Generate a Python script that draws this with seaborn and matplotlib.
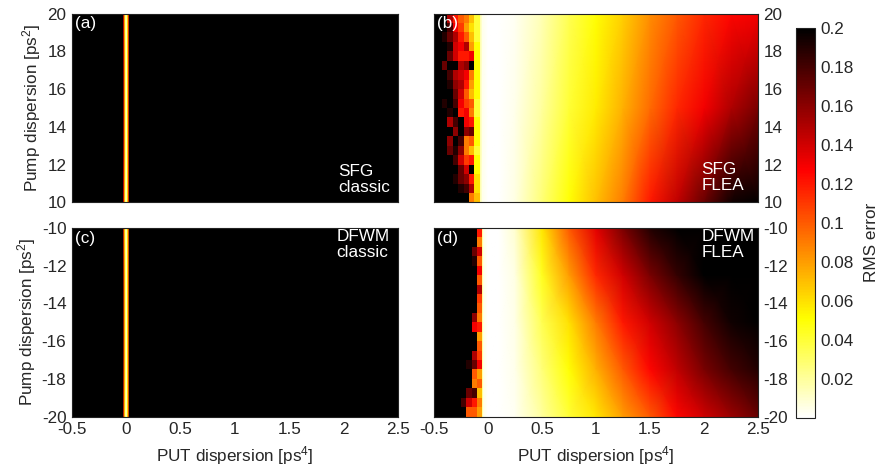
import numpy as np
import matplotlib
matplotlib.use("Agg")
import matplotlib.pyplot as plt
from matplotlib.colors import LinearSegmentedColormap
import seaborn as sns

# ---------------- data ----------------
x_ticks = [-0.5, 0, 0.5, 1, 1.5, 2, 2.5]
sfg_y_ticks = [10, 12, 14, 16, 18, 20]
dfwm_y_ticks = [-20, -18, -16, -14, -12, -10]
cbar_ticks = [0.02, 0.04, 0.06, 0.08, 0.1, 0.12, 0.14, 0.16, 0.18, 0.2]

# classic panels: RMS error profile across PUT dispersion (same for every pump row)
classic_x = [-0.5, -0.03, -0.02, -0.01, 0.0, 0.01, 0.02, 0.03, 2.5]
sfg_classic_rms = [0.2, 0.2, 0.12, 0.05, 0.0, 0.05, 0.11, 0.2, 0.2]
dfwm_classic_rms = [0.2, 0.2, 0.11, 0.05, 0.0, 0.05, 0.10, 0.2, 0.2]
sfg_classic_y = [10, 20]
dfwm_classic_y = [-20, -10]

# SFG FLEA: smooth part
sfg_flea_x = [-0.075, -0.05, 0.0, 0.1, 0.25, 0.5, 0.75, 1.0, 1.25, 1.5, 1.75, 2.0, 2.25, 2.5]
sfg_flea_y = [10, 15, 20]
sfg_flea_rms_y10 = [0.02, 0.004, 0.0, 0.0, 0.006, 0.028, 0.05, 0.07, 0.09, 0.12, 0.145, 0.17, 0.195, 0.2]
sfg_flea_rms_y15 = [0.02, 0.004, 0.0, 0.0, 0.004, 0.02, 0.04, 0.057, 0.075, 0.095, 0.115, 0.13, 0.15, 0.165]
sfg_flea_rms_y20 = [0.02, 0.004, 0.0, 0.0, 0.003, 0.015, 0.035, 0.05, 0.065, 0.085, 0.1, 0.115, 0.125, 0.13]

# SFG FLEA: noisy cells at negative PUT dispersion (rows listed from pump 20 down to 10)
sfg_noise_x_edges = [-0.425, -0.375, -0.325, -0.275, -0.225, -0.175, -0.125, -0.075]
sfg_noise_rows = [
    [0.20, 0.15, 0.12, 0.10, 0.09, 0.07, 0.04],
    [0.20, 0.18, 0.13, 0.11, 0.08, 0.06, 0.04],
    [0.19, 0.17, 0.15, 0.12, 0.10, 0.07, 0.04],
    [0.20, 0.19, 0.14, 0.13, 0.15, 0.08, 0.05],
    [0.20, 0.17, 0.14, 0.12, 0.12, 0.13, 0.05],
    [0.17, 0.20, 0.20, 0.15, 0.16, 0.20, 0.05],
    [0.20, 0.18, 0.15, 0.14, 0.13, 0.09, 0.05],
    [0.20, 0.19, 0.16, 0.15, 0.12, 0.08, 0.05],
    [0.20, 0.20, 0.17, 0.14, 0.10, 0.07, 0.05],
    [0.19, 0.20, 0.18, 0.13, 0.11, 0.10, 0.04],
    [0.20, 0.19, 0.20, 0.12, 0.13, 0.09, 0.04],
    [0.20, 0.15, 0.18, 0.20, 0.13, 0.12, 0.05],
    [0.20, 0.20, 0.16, 0.20, 0.16, 0.17, 0.05],
    [0.20, 0.16, 0.20, 0.18, 0.09, 0.10, 0.05],
    [0.20, 0.17, 0.19, 0.16, 0.09, 0.07, 0.04],
    [0.20, 0.20, 0.18, 0.14, 0.11, 0.12, 0.05],
    [0.20, 0.20, 0.20, 0.17, 0.14, 0.20, 0.05],
    [0.20, 0.20, 0.19, 0.17, 0.16, 0.12, 0.06],
    [0.20, 0.20, 0.20, 0.19, 0.18, 0.15, 0.06],
    [0.20, 0.20, 0.20, 0.20, 0.20, 0.09, 0.07],
]

# DFWM FLEA: smooth part
dfwm_flea_x = [-0.06, -0.04, 0.0, 0.1, 0.25, 0.5, 0.75, 1.0, 1.25, 1.5, 1.75, 2.0, 2.25, 2.5]
dfwm_flea_y = [-20, -17.5, -15, -12.5, -10]
dfwm_flea_rms_ym20 = [0.03, 0.005, 0.0, 0.0, 0.003, 0.02, 0.04, 0.058, 0.08, 0.10, 0.125, 0.14, 0.155, 0.17]
dfwm_flea_rms_ym175 = [0.03, 0.005, 0.0, 0.0, 0.004, 0.027, 0.05, 0.075, 0.10, 0.125, 0.145, 0.165, 0.18, 0.19]
dfwm_flea_rms_ym15 = [0.03, 0.005, 0.0, 0.0, 0.005, 0.035, 0.06, 0.09, 0.12, 0.14, 0.16, 0.18, 0.195, 0.2]
dfwm_flea_rms_ym125 = [0.03, 0.005, 0.0, 0.0, 0.006, 0.045, 0.08, 0.115, 0.14, 0.165, 0.185, 0.2, 0.2, 0.2]
dfwm_flea_rms_ym10 = [0.03, 0.005, 0.0, 0.0, 0.01, 0.058, 0.10, 0.135, 0.165, 0.19, 0.2, 0.2, 0.2, 0.2]

# DFWM FLEA: noisy cells (rows listed from pump -10 down to -20)
dfwm_noise_x_edges = [-0.25, -0.2, -0.15, -0.1, -0.06]
dfwm_noise_rows = [
    [0.20, 0.20, 0.20, 0.12],
    [0.20, 0.20, 0.20, 0.09],
    [0.20, 0.20, 0.17, 0.14],
    [0.20, 0.20, 0.19, 0.10],
    [0.20, 0.20, 0.20, 0.13],
    [0.20, 0.20, 0.20, 0.10],
    [0.20, 0.20, 0.20, 0.15],
    [0.20, 0.20, 0.20, 0.11],
    [0.20, 0.20, 0.20, 0.10],
    [0.20, 0.20, 0.16, 0.09],
    [0.20, 0.20, 0.13, 0.12],
    [0.20, 0.20, 0.20, 0.08],
    [0.20, 0.20, 0.20, 0.10],
    [0.20, 0.20, 0.15, 0.11],
    [0.20, 0.19, 0.17, 0.13],
    [0.20, 0.20, 0.10, 0.08],
    [0.20, 0.20, 0.09, 0.10],
    [0.20, 0.17, 0.18, 0.07],
    [0.18, 0.14, 0.12, 0.09],
    [0.20, 0.10, 0.10, 0.08],
]

# ---------------- style ----------------
sns.set_theme(style="white")
plt.rcParams["font.family"] = ["Liberation Sans", "DejaVu Sans"]
plt.rcParams["mathtext.fontset"] = "custom"
plt.rcParams["mathtext.rm"] = "Liberation Sans"
plt.rcParams["mathtext.it"] = "Liberation Sans:italic"
plt.rcParams["axes.unicode_minus"] = False
FS = 12.3

_base = sns.color_palette("hot_r", as_cmap=True)
_cols = _base(np.linspace(0, 1, 256))
_cols[:, :3] = np.clip((_cols[:, :3] - _cols[-1, :3]) / (1 - _cols[-1, :3]), 0, 1)
cmap = LinearSegmentedColormap.from_list("hot_r_black", _cols)
VMIN, VMAX = 0.0, 0.2

fig = plt.figure(figsize=(8.81, 4.76), dpi=100)
ax_a = fig.add_axes([0.0817, 0.5746, 0.370, 0.397])
ax_b = fig.add_axes([0.4926, 0.5746, 0.3678, 0.397])
ax_c = fig.add_axes([0.0817, 0.125, 0.370, 0.396])
ax_d = fig.add_axes([0.4926, 0.125, 0.3678, 0.396])
cax = fig.add_axes([0.9035, 0.1218, 0.0216, 0.819])


def fmt(v):
    return f"{v:g}"


def draw_classic(ax, yvals, prof):
    C = np.vstack([prof for _ in yvals])
    return ax.pcolormesh(classic_x, yvals, C, shading="gouraud", cmap=cmap, vmin=VMIN, vmax=VMAX)


draw_classic(ax_a, sfg_classic_y, sfg_classic_rms)
draw_classic(ax_c, dfwm_classic_y, dfwm_classic_rms)

# panel b
ax_b.pcolormesh(sfg_flea_x, sfg_flea_y,
                np.array([sfg_flea_rms_y10, sfg_flea_rms_y15, sfg_flea_rms_y20]),
                shading="gouraud", cmap=cmap, vmin=VMIN, vmax=VMAX)
sfg_noise_y_edges = np.linspace(10, 20, len(sfg_noise_rows) + 1)
ax_b.pcolormesh(sfg_noise_x_edges, sfg_noise_y_edges, np.array(sfg_noise_rows)[::-1],
                shading="flat", cmap=cmap, vmin=VMIN, vmax=VMAX)

# panel d
mesh = ax_d.pcolormesh(dfwm_flea_x, dfwm_flea_y,
                       np.array([dfwm_flea_rms_ym20, dfwm_flea_rms_ym175, dfwm_flea_rms_ym15,
                                 dfwm_flea_rms_ym125, dfwm_flea_rms_ym10]),
                       shading="gouraud", cmap=cmap, vmin=VMIN, vmax=VMAX)
dfwm_noise_y_edges = np.linspace(-20, -10, len(dfwm_noise_rows) + 1)
ax_d.pcolormesh(dfwm_noise_x_edges, dfwm_noise_y_edges, np.array(dfwm_noise_rows)[::-1],
                shading="flat", cmap=cmap, vmin=VMIN, vmax=VMAX)

for ax, yt, ylim in [(ax_a, sfg_y_ticks, (10, 20)), (ax_b, sfg_y_ticks, (10, 20)),
                     (ax_c, dfwm_y_ticks, (-20, -10)), (ax_d, dfwm_y_ticks, (-20, -10))]:
    ax.set_facecolor("black")
    ax.set_xlim(-0.5, 2.5)
    ax.set_ylim(*ylim)
    ax.set_xticks(x_ticks)
    ax.set_yticks(yt)
    ax.set_yticklabels([fmt(v) for v in yt], fontsize=FS)
    ax.tick_params(direction="in", length=3, width=0.6, color="black", pad=4)
    for s in ax.spines.values():
        s.set_color("#222222")
        s.set_linewidth(0.8)

for ax in (ax_a, ax_b):
    ax.set_xticklabels([])
for ax in (ax_c, ax_d):
    ax.set_xticklabels([fmt(v) for v in x_ticks], fontsize=FS)
    ax.set_xlabel("PUT dispersion [ps$^4$]", fontsize=FS, labelpad=5)
for ax in (ax_b, ax_d):
    ax.yaxis.tick_right()
for ax in (ax_a, ax_c):
    ax.set_ylabel("Pump dispersion [ps$^2$]", fontsize=FS, labelpad=3)

txt = dict(color="white", fontsize=FS)
ax_a.text(0.008, 0.985, "(a)", transform=ax_a.transAxes, ha="left", va="top", **txt)
ax_b.text(0.008, 0.985, "(b)", transform=ax_b.transAxes, ha="left", va="top", **txt)
ax_c.text(0.008, 0.985, "(c)", transform=ax_c.transAxes, ha="left", va="top", **txt)
ax_d.text(0.008, 0.985, "(d)", transform=ax_d.transAxes, ha="left", va="top", **txt)
ax_a.text(0.818, 0.04, "SFG\nclassic", transform=ax_a.transAxes, ha="left", va="bottom",
          linespacing=1.1, **txt)
ax_b.text(0.825, 0.05, "SFG\nFLEA", transform=ax_b.transAxes, ha="left", va="bottom",
          linespacing=1.1, **txt)
ax_c.text(0.812, 0.995, "DFWM\nclassic", transform=ax_c.transAxes, ha="left", va="top",
          linespacing=1.1, **txt)
ax_d.text(0.825, 0.995, "DFWM\nFLEA", transform=ax_d.transAxes, ha="left", va="top",
          linespacing=1.1, **txt)

cb = fig.colorbar(mesh, cax=cax)
cb.set_ticks(cbar_ticks)
cb.set_ticklabels([fmt(v) for v in cbar_ticks])
cb.ax.tick_params(labelsize=FS, direction="in", length=3, width=0.6, color="black",
                  left=True, right=True, pad=4)
cb.outline.set_edgecolor("#222222")
cb.outline.set_linewidth(0.8)
cb.set_label("RMS error", fontsize=FS, rotation=90)
cb.ax.yaxis.set_label_coords(3.55, 0.45)

fig.savefig("out.png", dpi=100)
